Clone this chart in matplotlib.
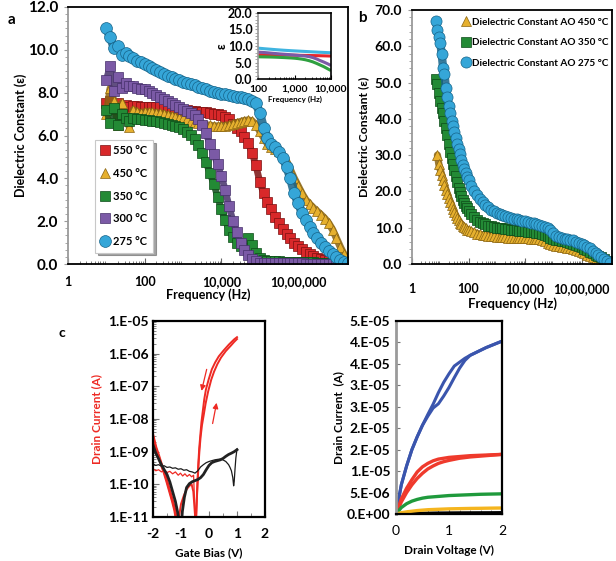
import numpy as np
import matplotlib
matplotlib.use('Agg')
import matplotlib.pyplot as plt
from matplotlib.ticker import LogLocator, NullFormatter, AutoMinorLocator, MultipleLocator

plt.rcParams['font.family'] = ['Lato', 'DejaVu Sans']
plt.rcParams['font.weight'] = 'bold'
plt.rcParams['axes.labelweight'] = 'bold'

# ---------------- panel a : dielectric constant vs frequency ----------------
freq_a = [10, 12.6, 15.8, 20.0, 25.1, 31.6, 39.8, 50.1, 63.1, 79.4,
          100, 126, 158, 200, 251, 316, 398, 501, 631, 794,
          1.00e3, 1.26e3, 1.58e3, 2.00e3, 2.51e3, 3.16e3, 3.98e3, 5.01e3, 6.31e3, 7.94e3,
          1.00e4, 1.26e4, 1.58e4, 2.00e4, 2.51e4, 3.16e4, 3.98e4, 5.01e4, 6.31e4, 7.94e4,
          1.00e5, 1.26e5, 1.58e5, 2.00e5, 2.51e5, 3.16e5, 3.98e5, 5.01e5, 6.31e5, 7.94e5,
          1.00e6, 1.26e6, 1.58e6, 2.00e6, 2.51e6, 3.16e6, 3.98e6, 5.01e6, 6.31e6, 7.94e6,
          1.00e7, 1.26e7, 1.58e7, 2.00e7]

eps_550 = [7.5, 7.6, 7.25, 7.5, 7.3, 7.42, 7.35, 7.38, 7.36, 7.35,
           7.35, 7.34, 7.33, 7.32, 7.31, 7.3, 7.28, 7.26, 7.24, 7.22,
           7.2, 7.18, 7.16, 7.14, 7.12, 7.1, 7.08, 7.05, 7.02, 6.99,
           6.95, 6.88, 6.75, 6.55, 6.35, 6.2, 5.95, 5.65, 5.2, 4.6,
           3.85, 3.3, 2.9, 2.55, 2.2, 1.9, 1.65, 1.42, 1.2, 1.0,
           0.85, 0.7, 0.56, 0.45, 0.36, 0.3, 0.24, 0.19, 0.15, 0.12,
           0.1, 0.08, 0.06, 0.04]
eps_450 = [7.0, 8.2, 7.6, 6.5, 7.5, 6.9, 6.4, 7.2, 7.1, 7.05,
           7.1, 7.1, 7.08, 7.06, 7.04, 7.0, 6.96, 6.92, 6.88, 6.84,
           6.8, 6.75, 6.7, 6.65, 6.6, 6.55, 6.5, 6.47, 6.45, 6.44,
           6.44, 6.46, 6.5, 6.55, 6.6, 6.65, 6.7, 6.72, 6.68, 6.5,
           6.2, 5.9, 5.62, 5.48, 5.38, 5.28, 5.1, 4.8, 4.4, 4.0,
           3.65, 3.3, 3.0, 2.8, 2.62, 2.46, 2.3, 2.12, 1.9, 1.6,
           1.2, 0.8, 0.45, 0.15]
eps_350 = [7.2, 6.6, 7.3, 6.5, 7.0, 6.8, 6.7, 6.8, 6.75, 6.75,
           6.73, 6.71, 6.69, 6.67, 6.64, 6.6, 6.55, 6.5, 6.44, 6.38,
           6.3, 6.18, 6.03, 5.82, 5.55, 5.2, 4.75, 4.25, 3.75, 3.15,
           2.55, 2.05, 1.6, 1.25, 1.0, 0.82, 0.88, 1.2, 0.9, 0.5,
           0.3, 0.2, 0.15, 0.13, 0.12, 0.12, 0.11, 0.11, 0.1, 0.1,
           0.1, 0.09, 0.09, 0.08, 0.08, 0.07, 0.07, 0.06, 0.05, 0.05,
           0.04, 0.03, 0.02, 0.01]
eps_300 = [8.6, 9.25, 8.1, 8.75, 8.2, 8.45, 8.3, 8.32, 8.22, 8.18,
           8.15, 8.08, 8.0, 7.9, 7.8, 7.7, 7.6, 7.52, 7.44, 7.35,
           7.26, 7.16, 7.06, 6.95, 6.78, 6.5, 6.1, 5.6, 5.15, 4.65,
           4.1, 3.45, 2.7, 2.0, 1.5, 1.0, 0.65, 0.4, 0.22, 0.12,
           0.07, 0.05, 0.05, 0.04, 0.04, 0.04, 0.04, 0.03, 0.03, 0.03,
           0.03, 0.03, 0.02, 0.02, 0.02, 0.02, 0.02, 0.01, 0.01, 0.01,
           0.01, 0.0, 0.0, 0.0]
eps_275 = [11.0, 10.6, 10.1, 10.2, 9.75, 9.85, 9.7, 9.6, 9.5, 9.43,
           9.35, 9.25, 9.15, 9.06, 8.97, 8.88, 8.8, 8.72, 8.65, 8.58,
           8.52, 8.46, 8.4, 8.34, 8.28, 8.22, 8.16, 8.1, 8.05, 8.0,
           7.96, 7.92, 7.88, 7.85, 7.82, 7.79, 7.76, 7.72, 7.62, 7.5,
           7.05, 6.35, 5.9, 5.6, 5.45, 5.25, 4.95, 4.55, 4.0, 3.3,
           2.85, 2.4, 2.05, 1.72, 1.45, 1.22, 1.0, 0.8, 0.62, 0.46,
           0.32, 0.2, 0.1, 0.04]

labels_a = ['550 °C', '450 °C', '350 °C', '300 °C', '275 °C']
colors_a = ['#d8282a', '#e6b02e', '#238a35', '#7b5aa6', '#35a6d8']
edges_a = ['#7a1010', '#8a6412', '#0d4a18', '#45306a', '#16648a']
markers_a = ['s', '^', 's', 's', 'o']
sizes_a = [6.5, 7, 6.5, 6.5, 8.5]

# ---------------- panel b ----------------
freq_b = [7.08, 7.94, 8.91, 10.0, 11.2, 12.6, 14.1, 15.8, 17.8, 20.0, 22.4, 25.1,
          28.2, 31.6, 35.5, 39.8, 44.7, 50.1, 56.2, 63.1, 70.8, 79.4, 89.1, 100,
          126, 158, 200, 251, 316, 398, 501, 631, 794,
          1.00e3, 1.26e3, 1.58e3, 2.00e3, 2.51e3, 3.16e3, 3.98e3, 5.01e3, 6.31e3, 7.94e3,
          1.00e4, 1.26e4, 1.58e4, 2.00e4, 2.51e4, 3.16e4, 3.98e4, 5.01e4, 6.31e4, 7.94e4,
          1.00e5, 1.26e5, 1.58e5, 2.00e5, 2.51e5, 3.16e5, 3.98e5, 5.01e5, 6.31e5, 7.94e5,
          1.00e6, 1.26e6, 1.58e6, 2.00e6, 2.51e6, 3.16e6, 3.98e6, 5.01e6, 6.31e6, 7.94e6,
          1.00e7]
eps_b_450 = [None, 30.0, 27.5, 26.0, 24.6, 23.2, 21.8, 20.5, 19.3, 18.2, 17.2, 16.3,
             15.2, 14.2, 13.4, 12.6, 12.0, 11.4, 10.9, 10.5, 10.1, 9.8, 9.5, 9.3,
             9.0, 8.7, 8.4, 8.2, 8.0, 7.9, 7.8, 7.7, 7.6,
             7.5, 7.45, 7.4, 7.35, 7.3, 7.25, 7.2, 7.2, 7.15, 7.1,
             7.1, 7.05, 7.0, 6.95, 6.9, 6.8, 6.6, 6.3, 5.9, 5.5,
             5.2, 5.0, 4.9, 4.8, 4.7, 4.5, 4.3, 4.1, 3.9, 3.6,
             3.3, 3.0, 2.6, 2.2, 1.8, 1.4, 1.0, 0.6, 0.3, 0.1,
             0.0]
eps_b_350 = [51.0, 49.5, 47.0, 45.0, 43.0, 41.5, 39.5, 37.5, 35.5, 33.0, 31.0, 29.2,
             27.5, 26.0, 24.2, 22.5, 21.0, 19.8, 18.7, 17.7, 16.8, 16.0, 15.3, 14.7,
             13.7, 12.9, 12.2, 11.7, 11.2, 10.9, 10.6, 10.4, 10.2,
             10.0, 9.9, 9.8, 9.7, 9.6, 9.5, 9.4, 9.3, 9.2, 9.1,
             9.0, 8.9, 8.8, 8.7, 8.6, 8.5, 8.3, 8.0, 7.6, 7.1,
             6.8, 6.6, 6.5, 6.4, 6.3, 6.1, 5.9, 5.6, 5.3, 5.0,
             4.6, 4.2, 3.8, 3.4, 3.0, 2.6, 2.2, 1.8, 1.3, 0.9,
             0.5]
eps_b_275 = [67.0, 64.5, 62.5, 61.0, 58.0, 54.0, 52.5, 48.5, 46.0, 43.5, 41.5, 39.5,
             38.0, 36.4, 34.7, 33.2, 31.7, 30.2, 28.7, 27.3, 26.2, 25.1, 24.1, 23.2,
             21.5, 20.1, 19.0, 18.0, 17.1, 16.3, 15.6, 15.0, 14.5,
             14.1, 13.7, 13.4, 13.1, 12.9, 12.7, 12.5, 12.3, 12.1, 11.9,
             11.75, 11.6, 11.4, 11.2, 11.0, 10.7, 10.4, 10.2, 9.9, 9.4,
             8.5, 7.8, 7.4, 7.2, 7.0, 6.85, 6.7, 6.5, 6.2, 5.8,
             5.5, 5.1, 4.8, 4.3, 3.6, 3.0, 2.4, 1.9, 1.3, 0.8,
             0.3]
labels_b = ['Dielectric Constant AO 450 °C', 'Dielectric Constant AO 350 °C',
            'Dielectric Constant AO 275 °C']

# ---------------- panel c : transfer curve ----------------
red_lead_v = [-2.0, -1.9, -1.8, -1.7, -1.6, -1.5, -1.4, -1.3, -1.22, -1.16, -1.12, -1.08,
              -1.0, -0.9, -0.8, -0.7, -0.62, -0.56, -0.52]
red_lead_i = [3.0e-9, 1.35e-9, 7.5e-10, 4.0e-10, 2.3e-10, 1.2e-10, 6e-11, 3e-11, 1.6e-11, 8e-12, 4e-12, 9e-12,
              2.5e-11, 4.5e-11, 7e-11, 9e-11, 1.0e-10, 6e-11, 2e-11]
red_fwd_v = [-0.47, -0.43, -0.40, -0.37, -0.34, -0.30, -0.25, -0.19, -0.12, -0.03, 0.08, 0.18,
             0.30, 0.43, 0.6, 0.79, 0.9, 1.0]
red_fwd_i = [5e-12, 4e-11, 1.5e-10, 4.5e-10, 1.1e-9, 2.8e-9, 6.5e-9, 1.3e-8, 3e-8, 7e-8, 1.6e-7, 2.8e-7,
             4.8e-7, 7.6e-7, 1.2e-6, 1.8e-6, 2.3e-6, 2.8e-6]
red_rev_v = [1.0, 0.9, 0.71, 0.52, 0.35, 0.22, 0.10, -0.01, -0.11, -0.17, -0.22, -0.27,
             -0.31, -0.35, -0.39, -0.42, -0.45, -0.48]
red_rev_i = [3.2e-6, 2.75e-6, 1.9e-6, 1.25e-6, 8.3e-7, 5.4e-7, 3.3e-7, 1.65e-7, 8e-8, 4e-8, 1.8e-8, 8e-9,
             3.2e-9, 1.25e-9, 3.2e-10, 8e-11, 2e-11, 4e-12]
red_tail_v = [-0.48, -0.55, -0.62, -0.7, -0.78, -0.86, -0.94, -1.02, -1.1, -1.2, -1.3, -1.4,
              -1.5, -1.6, -1.7, -1.8, -1.9, -2.0]
red_tail_i = [4e-12, 1.9e-10, 1.7e-10, 2.0e-10, 1.75e-10, 2.1e-10, 1.8e-10, 2.2e-10, 1.9e-10, 2.4e-10, 2.1e-10, 2.5e-10,
              2.3e-10, 2.7e-10, 2.4e-10, 2.8e-10, 2.6e-10, 3.0e-10]
blk_thick_v = [-2.0, -1.9, -1.8, -1.7, -1.6, -1.5, -1.4, -1.3, -1.2, -1.12, -1.05, -1.0, -0.95, -0.88,
               -0.8, -0.7, -0.6, -0.5, -0.4, -0.3, -0.2, -0.1, 0.0, 0.1, 0.2, 0.3, 0.4, 0.5, 0.6,
               0.7, 0.8, 0.9, 1.0]
blk_thick_i = [1.6e-9, 9e-10, 6e-10, 4e-10, 2.8e-10, 2e-10, 1.2e-10, 6e-11, 3e-11, 1.4e-11, 6e-12, 4e-12, 1.5e-11, 4e-11,
               8e-11, 1.05e-10, 1.2e-10, 1.3e-10, 1.4e-10, 1.6e-10, 2.0e-10, 2.8e-10, 3.8e-10, 4.6e-10, 5.0e-10, 5.3e-10, 5.6e-10, 6.2e-10, 7.2e-10,
               8.2e-10, 9e-10, 1.0e-9, 1.15e-9]
blk_thin_v = [-2.0, -1.9, -1.8, -1.7, -1.6, -1.5, -1.4, -1.3, -1.2, -1.1, -1.0, -0.9, -0.8, -0.7,
              -0.6, -0.5, -0.4, -0.3, -0.2, -0.1, 0.0, 0.1, 0.2, 0.3, 0.4, 0.5, 0.6, 0.7,
              0.75, 0.8, 0.85, 0.88, 0.9, 0.93, 0.96, 1.0]
blk_thin_i = [4.2e-10, 3.8e-10, 4.0e-10, 3.6e-10, 3.7e-10, 3.3e-10, 3.4e-10, 3.1e-10, 3.2e-10, 2.9e-10, 3.0e-10, 2.7e-10, 2.8e-10, 2.5e-10,
              2.4e-10, 2.2e-10, 2.6e-10, 3.4e-10, 4.0e-10, 4.6e-10, 5.0e-10, 5.3e-10, 5.6e-10, 5.8e-10, 5.9e-10, 5.6e-10, 5.0e-10, 4.0e-10,
              3.3e-10, 2.6e-10, 1.6e-10, 9e-11, 1.2e-10, 3e-10, 6.5e-10, 1.2e-9]
c_yticks = [1e-11, 1e-10, 1e-9, 1e-8, 1e-7, 1e-6, 1e-5]
c_yticklabels = ['1.E-11', '1.E-10', '1.E-09', '1.E-08', '1.E-07', '1.E-06', '1.E-05']

# ---------------- panel d : output curves ----------------
vd_blue = [0.0, 0.1, 0.2, 0.3, 0.4, 0.5, 0.6, 0.7, 0.8, 0.9, 1.0, 1.1, 1.2, 1.3, 1.4, 1.5, 1.6, 1.7, 1.8, 1.9, 2.0]
id_blue_1 = [0.0, 0.68, 1.12, 1.5, 1.8, 2.07, 2.32, 2.56, 2.83, 3.07, 3.27, 3.45, 3.54, 3.63, 3.7, 3.76, 3.82, 3.88, 3.93, 3.98, 4.03]
id_blue_2 = [0.0, 0.68, 1.12, 1.5, 1.8, 2.07, 2.28, 2.47, 2.57, 2.75, 2.95, 3.18, 3.4, 3.58, 3.7, 3.76, 3.82, 3.88, 3.93, 3.98, 4.03]
vd_low = [0.0, 0.1, 0.2, 0.3, 0.4, 0.5, 0.6, 0.7, 0.8, 0.9, 1.0, 1.2, 1.4, 1.6, 1.8, 2.0]
id_red_1 = [0.0, 0.35, 0.6, 0.8, 0.98, 1.1, 1.18, 1.24, 1.28, 1.3, 1.32, 1.34, 1.36, 1.37, 1.38, 1.39]
id_red_2 = [0.0, 0.28, 0.5, 0.68, 0.83, 0.95, 1.05, 1.12, 1.18, 1.22, 1.25, 1.3, 1.33, 1.35, 1.37, 1.39]
id_green = [0.0, 0.15, 0.24, 0.3, 0.34, 0.37, 0.39, 0.4, 0.41, 0.42, 0.43, 0.44, 0.45, 0.46, 0.465, 0.47]
id_yellow = [0.0, 0.03, 0.05, 0.065, 0.08, 0.09, 0.1, 0.105, 0.11, 0.115, 0.12, 0.125, 0.13, 0.133, 0.137, 0.14]
id_black = [0.0, 0.005, 0.01, 0.012, 0.014, 0.016, 0.018, 0.02, 0.021, 0.022, 0.023, 0.025, 0.026, 0.027, 0.028, 0.03]
d_yticks = [0, 5e-6, 1e-5, 1.5e-5, 2e-5, 2.5e-5, 3e-5, 3.5e-5, 4e-5, 4.5e-5]
d_yticklabels = ['0.E+00', '5.E-06', '1.E-05', '2.E-05', '2.E-05', '3.E-05', '3.E-05', '4.E-05', '4.E-05', '5.E-05']

freq_ticks = [1, 100, 1e4, 1e6]
freq_ticklabels = ['1', '100', '10,000', '10,00,000']

W, H = 616, 561
fig = plt.figure(figsize=(W / 100, H / 100), dpi=100)


def box(l, t, r, b):
    return [l / W, 1 - b / H, (r - l) / W, (b - t) / H]


def frame(ax, left_grey=True, lw=1.3):
    for s in ax.spines.values():
        s.set_color('black')
        s.set_linewidth(lw)
    if left_grey:
        ax.spines['left'].set_color('#9a9a9a')


def ribbon(ax, x, y, m, ms, fc, ec, lab=None):
    # thick line under the markers so the dense sweep reads as one band
    ax.plot(x, y, color=ec, lw=ms * 0.75, alpha=0.85, solid_capstyle='round')
    ax.plot(x, y, ls='none', marker=m, ms=ms, mfc=fc, mec=ec, mew=0.5, label=lab)


# ---- a ----
ax = fig.add_axes(box(68, 7, 348, 264))
for vals, lab, c, ec, m, ms in zip([eps_550, eps_450, eps_350, eps_300, eps_275], labels_a,
                                   colors_a, edges_a, markers_a, sizes_a):
    ribbon(ax, freq_a, vals, m, ms, c, ec, lab)
ax.set_xscale('log')
ax.set_xlim(1, 2e7)
ax.set_ylim(0, 12)
ax.set_xticks(freq_ticks)
ax.set_xticklabels(freq_ticklabels, fontsize=9)
ax.xaxis.set_minor_locator(LogLocator(base=10, subs=range(2, 10), numticks=20))
ax.xaxis.set_minor_formatter(NullFormatter())
ax.set_yticks([0, 2, 4, 6, 8, 10, 12])
ax.set_yticklabels(['%.1f' % v for v in [0, 2, 4, 6, 8, 10, 12]], fontsize=11)
ax.yaxis.set_minor_locator(AutoMinorLocator(6))
ax.tick_params(axis='x', which='both', direction='in', pad=9, length=4, color='#666666')
ax.tick_params(axis='x', which='minor', length=2.5)
ax.tick_params(axis='y', which='both', direction='out', length=3, color='#9a9a9a', pad=4)
ax.tick_params(axis='y', which='minor', length=2)
frame(ax)
ax.set_ylabel('Dielectric Constant (ε)', fontsize=9)
ax.yaxis.set_label_coords(-0.145, 0.5)
ax.set_xlabel('Frequency (Hz)', fontsize=9)
ax.xaxis.set_label_coords(0.5, -0.095)
leg = ax.legend(loc='upper left', bbox_to_anchor=(0.078, 0.505), fontsize=8, frameon=True,
                fancybox=False, shadow=True, edgecolor='#c8c8c8', framealpha=1,
                labelspacing=1.05, handlelength=0.8, handletextpad=0.3, borderpad=0.5)
leg.get_frame().set_linewidth(0.8)

# inset
axi = fig.add_axes(box(258, 13, 331, 79))
for vals, c in zip([eps_550, eps_350, eps_300, eps_275], ['#e8262a', '#2fa040', '#7b5aa6', '#3fb4e0']):
    axi.plot(freq_a[10:31], vals[10:31], color=c, lw=2.2, solid_capstyle='butt')
axi.set_xscale('log')
axi.set_xlim(100, 1e4)
axi.set_ylim(0, 20)
axi.set_xticks([100, 1e3, 1e4])
axi.set_xticklabels(['100', '1,000', '10,000'], fontsize=7.5)
axi.xaxis.set_minor_locator(LogLocator(base=10, subs=range(2, 10), numticks=20))
axi.xaxis.set_minor_formatter(NullFormatter())
axi.set_yticks([0, 5, 10, 15, 20])
axi.set_yticklabels(['0.0', '5.0', '10.0', '15.0', '20.0'], fontsize=9)
axi.yaxis.set_minor_locator(AutoMinorLocator(5))
axi.tick_params(axis='x', which='both', direction='in', pad=4, length=3)
axi.tick_params(axis='x', which='minor', length=1.5)
axi.tick_params(axis='y', which='both', direction='out', length=2, color='#9a9a9a', pad=2)
frame(axi, lw=1.2)
axi.set_ylabel('ε', fontsize=9, labelpad=0)
axi.set_xlabel('Frequency (Hz)', fontsize=5.8, labelpad=1.5)

# ---- b ----
axb = fig.add_axes(box(412, 10, 612, 264))
ribbon(axb, freq_b, np.array(eps_b_450, dtype=float), '^', 7, '#e6b02e', '#8a6412', labels_b[0])
ribbon(axb, freq_b, eps_b_350, 's', 6.5, '#238a35', '#0d4a18', labels_b[1])
ribbon(axb, freq_b, eps_b_275, 'o', 8, '#35a6d8', '#16648a', labels_b[2])
axb.set_xscale('log')
axb.set_xlim(1, 1.2e7)
axb.set_ylim(0, 70)
axb.set_xticks(freq_ticks)
axb.set_xticklabels(freq_ticklabels, fontsize=9)
axb.xaxis.set_minor_locator(LogLocator(base=10, subs=range(2, 10), numticks=20))
axb.xaxis.set_minor_formatter(NullFormatter())
axb.set_yticks([0, 10, 20, 30, 40, 50, 60, 70])
axb.set_yticklabels(['%.1f' % v for v in [0, 10, 20, 30, 40, 50, 60, 70]], fontsize=10)
axb.yaxis.set_minor_locator(AutoMinorLocator(5))
axb.tick_params(axis='x', which='both', direction='in', pad=14, length=4, color='#666666')
axb.tick_params(axis='x', which='minor', length=2.5)
axb.tick_params(axis='y', which='both', direction='out', length=3, color='#9a9a9a', pad=4)
axb.tick_params(axis='y', which='minor', length=2)
frame(axb)
axb.set_ylabel('Dielectric Constant (ε)', fontsize=8.8)
axb.yaxis.set_label_coords(-0.215, 0.5)
axb.set_xlabel('Frequency (Hz)', fontsize=9.5)
axb.xaxis.set_label_coords(0.5, -0.13)
axb.legend(loc='upper right', bbox_to_anchor=(1.0, 0.985), fontsize=7.2, frameon=False,
           labelspacing=1.15, handlelength=0.7, handletextpad=0.2, borderaxespad=0.2,
           borderpad=0.2)

# ---- c ----
axc = fig.add_axes(box(153, 321, 265, 517))
axc.plot(red_lead_v + red_fwd_v, red_lead_i + red_fwd_i, color='#ee2a24', lw=1.4)
axc.plot(red_lead_v[:12], red_lead_i[:12], color='#ee2a24', lw=2.2)
axc.plot(red_rev_v, red_rev_i, color='#ee2a24', lw=1.4)
axc.plot(red_tail_v, red_tail_i, color='#ee2a24', lw=0.9)
axc.plot(blk_thin_v, blk_thin_i, color='#1a1a1a', lw=0.9)
axc.plot(blk_thick_v, blk_thick_i, color='#222222', lw=2.0)
axc.set_yscale('log')
axc.set_xlim(-2, 2)
axc.set_ylim(1e-11, 1e-5)
axc.set_yticks(c_yticks)
axc.set_yticklabels(c_yticklabels, fontsize=10)
axc.yaxis.set_minor_locator(LogLocator(base=10, subs=range(2, 10), numticks=20))
axc.yaxis.set_minor_formatter(NullFormatter())
axc.set_xticks([-2, -1, 0, 1, 2])
axc.set_xticklabels(['-2', '-1', '0', '1', '2'], fontsize=10)
axc.xaxis.set_minor_locator(MultipleLocator(0.5))
axc.tick_params(which='both', direction='in', color='#777777')
axc.tick_params(axis='y', which='major', length=4, pad=3)
axc.tick_params(axis='y', which='minor', length=2)
axc.tick_params(axis='x', which='major', length=4, pad=8)
axc.tick_params(axis='x', which='minor', length=3)
frame(axc, left_grey=False, lw=1.6)
axc.set_ylabel('Drain Current (A)', fontsize=8.5, color='#ee2a24')
axc.yaxis.set_label_coords(-0.45, 0.5)
axc.set_xlabel('Gate Bias (V)', fontsize=8.5)
axc.xaxis.set_label_coords(0.5, -0.155)
axc.annotate('', xy=(-0.29, 6.0e-8), xytext=(-0.06, 4.0e-7),
             arrowprops=dict(arrowstyle='-|>', color='#ee2a24', lw=0.9, mutation_scale=8))
axc.annotate('', xy=(0.29, 3.8e-8), xytext=(0.11, 6.0e-9),
             arrowprops=dict(arrowstyle='-|>', color='#ee2a24', lw=0.9, mutation_scale=8))

# ---- d ----
axd = fig.add_axes(box(396, 321, 502, 514))
to_a = 1e-5
axd.plot(vd_blue, np.array(id_blue_1) * to_a, color='#3a55ad', lw=2.2)
axd.plot(vd_blue, np.array(id_blue_2) * to_a, color='#3a55ad', lw=2.2)
axd.plot(vd_low, np.array(id_red_1) * to_a, color='#ef3a2c', lw=2.4)
axd.plot(vd_low, np.array(id_red_2) * to_a, color='#ef3a2c', lw=2.4)
axd.plot(vd_low, np.array(id_green) * to_a, color='#1f9a3c', lw=2.4)
axd.plot(vd_low, np.array(id_black) * to_a, color='black', lw=2.4)
axd.plot(vd_low, np.array(id_yellow) * to_a, color='#f5b51e', lw=2.4)
axd.set_xlim(0, 2)
axd.set_ylim(0, 4.5e-5)
axd.set_yticks(d_yticks)
axd.set_yticklabels(d_yticklabels, fontsize=10)
axd.set_xticks([0, 1, 2])
axd.set_xticklabels(['0', '1', '2'], fontsize=10, fontweight='normal')
axd.xaxis.set_minor_locator(MultipleLocator(0.2))
axd.tick_params(which='both', direction='in', color='#777777')
axd.tick_params(axis='y', length=3, pad=4)
axd.tick_params(axis='x', which='major', length=4, pad=8)
axd.tick_params(axis='x', which='minor', length=3)
frame(axd, lw=1.6)
axd.spines['left'].set_linewidth(2.0)
axd.set_ylabel('Drain Current  (A)', fontsize=8.5)
axd.yaxis.set_label_coords(-0.49, 0.5)
axd.set_xlabel('Drain Voltage (V)', fontsize=8.5)
axd.xaxis.set_label_coords(0.5, -0.16)

# panel letters
fig.text(12 / W, 1 - 20 / H, 'a', fontsize=11, ha='center', va='center')
fig.text(362 / W, 1 - 18 / H, 'b', fontsize=11, ha='center', va='center')
fig.text(62 / W, 1 - 333 / H, 'c', fontsize=10, ha='center', va='center')

fig.savefig('out.png', dpi=100)
